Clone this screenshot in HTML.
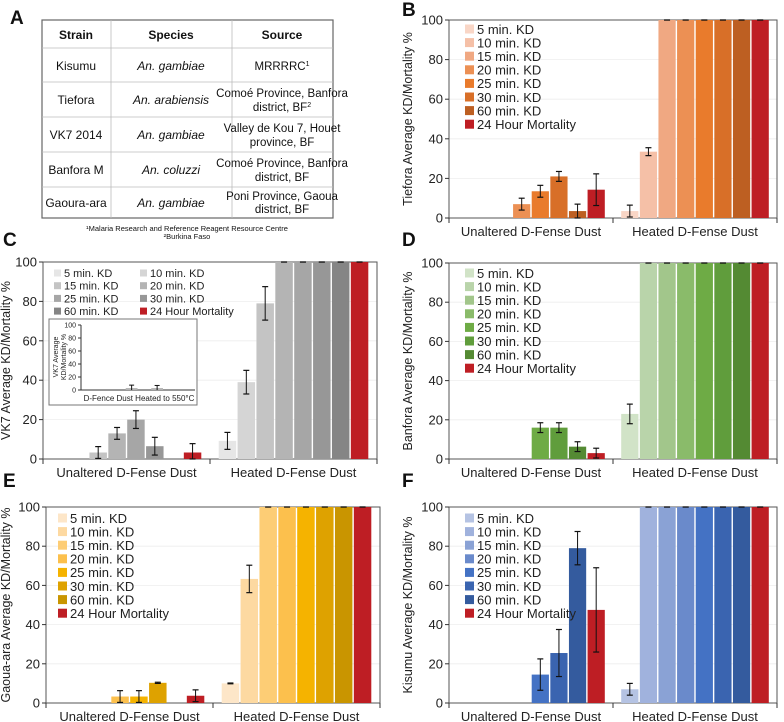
<!DOCTYPE html>
<html><head><meta charset="utf-8"><style>
body{margin:0;background:#fff;}
svg{display:block;font-family:"Liberation Sans",Arial,sans-serif;}
</style></head><body>
<svg id="fig" width="784" height="722" viewBox="0 0 784 722" xmlns="http://www.w3.org/2000/svg">
<g font-size="12" fill="#111" text-anchor="middle">
  <rect x="42" y="20" width="291" height="198" fill="none" stroke="#666" stroke-width="1.2"/>
  <g stroke="#bbb" stroke-width="0.8">
    <line x1="111" y1="20" x2="111" y2="218"/><line x1="232" y1="20" x2="232" y2="218"/>
    <line x1="42" y1="48" x2="333" y2="48"/><line x1="42" y1="82" x2="333" y2="82"/>
    <line x1="42" y1="117" x2="333" y2="117"/><line x1="42" y1="152" x2="333" y2="152"/>
    <line x1="42" y1="187" x2="333" y2="187"/>
  </g>
  <g font-weight="bold">
    <text x="76" y="39">Strain</text><text x="171" y="39">Species</text><text x="282" y="39">Source</text>
  </g>
  <text x="76" y="70">Kisumu</text><text x="171" y="70" font-style="italic">An. gambiae</text>
  <text x="76" y="104">Tiefora</text><text x="171" y="104" font-style="italic">An. arabiensis</text>
  <text x="76" y="139">VK7 2014</text><text x="171" y="139" font-style="italic">An. gambiae</text>
  <text x="76" y="174">Banfora M</text><text x="171" y="174" font-style="italic">An. coluzzi</text>
  <text x="76" y="207">Gaoura-ara</text><text x="171" y="207" font-style="italic">An. gambiae</text>
  <g font-size="11.5">
  <text x="282" y="70">MRRRRC<tspan font-size="7" dy="-4">1</tspan></text>
  <text x="282" y="97">Comoé Province, Banfora</text><text x="282" y="111">district, BF<tspan font-size="7" dy="-4">2</tspan></text>
  <text x="282" y="132">Valley de Kou 7, Houet</text><text x="282" y="146">province, BF</text>
  <text x="282" y="167">Comoé Province, Banfora</text><text x="282" y="181">district, BF</text>
  <text x="282" y="200">Poni Province, Gaoua</text><text x="282" y="213">district, BF</text>
  </g>
  <text x="187" y="231" font-size="7.5">¹Malaria Research and Reference Reagent Resource Centre</text>
  <text x="187" y="239" font-size="7.5">²Burkina Faso</text>
</g>
<g font-weight="bold" font-size="19" fill="#111">
  <text x="10" y="24">A</text><text x="402" y="16">B</text><text x="3" y="246">C</text>
  <text x="402" y="246">D</text><text x="3" y="487">E</text><text x="402" y="487">F</text>
</g>
<g id="charts"></g>
</svg>
<script>
// ---- data ----
const categories = ["Unaltered D-Fense Dust", "Heated D-Fense Dust"];
const seriesNames = ["5 min. KD","10 min. KD","15 min. KD","20 min. KD","25 min. KD","30 min. KD","60 min. KD","24 Hour Mortality"];
const yTicks = [0,20,40,60,80,100];
const tieforaUnaltered = [0,0,0,7,13.5,21,3.5,14.3];
const tieforaUnalteredErr = [0,0,0,3,3,2.5,3.5,8];
const tieforaHeated = [3.5,33.5,100,100,100,100,100,100];
const tieforaHeatedErr = [3,2,0,0,0,0,0,0];
const vk7Unaltered = [0,0,3.3,13,20,6.5,0,3.3];
const vk7UnalteredErr = [0,0,3,3,4.5,4.5,0,4.5];
const vk7Heated = [9.2,39,79,100,100,100,100,100];
const vk7HeatedErr = [4.3,6,8.5,0,0,0,0,0];
const vk7Inset = [0,0,0,3,0,3,0,0];
const vk7InsetErr = [0,0,0,4.5,0,4,0,0];
const banforaUnaltered = [0,0,0,0,16,16,6.3,3];
const banforaUnalteredErr = [0,0,0,0,2.5,2.5,2.5,2.5];
const banforaHeated = [23,100,100,100,100,100,100,100];
const banforaHeatedErr = [5,0,0,0,0,0,0,0];
const gaouaUnaltered = [0,0,0,3.3,3.3,10.3,0,3.7];
const gaouaUnalteredErr = [0,0,0,3,3,0.3,0,3];
const gaouaHeated = [10,63.3,100,100,100,100,100,100];
const gaouaHeatedErr = [0.2,7,0,0,0,0,0,0];
const kisumuUnaltered = [0,0,0,0,14.5,25.5,79,47.5];
const kisumuUnalteredErr = [0,0,0,0,8,12,8.5,21.5];
const kisumuHeated = [7,100,100,100,100,100,100,100];
const kisumuHeatedErr = [3,0,0,0,0,0,0,0];

const NS="http://www.w3.org/2000/svg";
const root=document.getElementById('charts');
function mk(tag,attrs,parent){const e=document.createElementNS(NS,tag);for(const k in attrs)e.setAttribute(k,attrs[k]);(parent||root).appendChild(e);return e;}

function panel(o){
  const g=mk('g',{});
  
  
  const L=o.x0,R=o.x1,T=o.y100,B=o.y0,W=R-L;
  const y=v=>B-(v/100)*(B-T);
  yTicks.forEach(t=>{ if(t>0&&t<100) mk('line',{x1:L,x2:R,y1:y(t),y2:y(t),stroke:'#eeeeee','stroke-width':0.8},g);});
  mk('rect',{x:L,y:T,width:W,height:B-T,fill:'none',stroke:'#555','stroke-width':1},g);
  yTicks.forEach(t=>{
    mk('line',{x1:L-4,x2:L,y1:y(t),y2:y(t),stroke:'#333'},g);
    const tx=mk('text',{x:L-6,y:y(t)+4.5,'text-anchor':'end','font-size':13,fill:'#222'},g);tx.textContent=t;
    
  });
  const half=W/2, pad=o.pad, slot=(half-2*pad)/8;
  mk('line',{x1:L+half,x2:L+half,y1:B,y2:B+5,stroke:'#333'},g);
  mk('line',{x1:L,x2:L,y1:B,y2:B+5,stroke:'#333'},g);
  mk('line',{x1:R,x2:R,y1:B,y2:B+5,stroke:'#333'},g);
  [o.u,o.h].forEach((vals,gi)=>{
    const errs=gi?o.he:o.ue;
    const lab=mk('text',{x:L+half*gi+half/2,y:B+18,'text-anchor':'middle','font-size':13,fill:'#222'},g);
    lab.textContent=categories[gi];
    
    
    vals.forEach((v,i)=>{
      const bx=L+half*gi+pad+i*slot;
      if(v>0){
        const r=mk('rect',{x:bx+0.7,y:y(v),width:slot-1.4,height:B-y(v),fill:o.colors[i]},g);
        
        
      }
      const cx=bx+slot/2, e=errs[i];
      if(v>0||e>0){
        mk('line',{x1:cx,x2:cx,y1:y(Math.min(100,v+e)),y2:y(Math.max(0,v-e)),stroke:'#111','stroke-width':1},g);
        mk('line',{x1:cx-3,x2:cx+3,y1:y(Math.min(100,v+e)),y2:y(Math.min(100,v+e)),stroke:'#111','stroke-width':1.2},g);
        mk('line',{x1:cx-3,x2:cx+3,y1:y(Math.max(0,v-e)),y2:y(Math.max(0,v-e)),stroke:'#111','stroke-width':1.2},g);
      }
    });
  });
  const yt=mk('text',{x:0,y:0,'text-anchor':'middle','font-size':12.5,fill:'#222',transform:`translate(${o.ytx},${(T+B)/2}) rotate(-90)`},g);
  yt.textContent=o.ytitle;
  
  // legend
  seriesNames.forEach((s,i)=>{
    let lx,ly;
    if(o.twoCol){lx=o.lx+(i%2)*86; ly=o.ly+Math.floor(i/2)*12.7;}
    else {lx=o.lx; ly=o.ly+i*13.6;}
    const sz=o.twoCol?7:9;
    mk('rect',{x:lx,y:ly-sz/2,width:sz,height:sz,fill:o.colors[i]},g);
    const t=mk('text',{x:lx+sz+3,y:ly+(o.twoCol?4:4.8),'font-size':o.twoCol?11:13,fill:'#222'},g);
    t.textContent=s;
    
    
  });
  return g;
}

const red="#be1e24";
panel({name:'panel-b-tiefora',x0:449,x1:777,y100:20,y0:218,pad:7.5,u:tieforaUnaltered,ue:tieforaUnalteredErr,h:tieforaHeated,he:tieforaHeatedErr,
  colors:["#f9d6c6","#f5c0a7","#f0a882","#ec9054","#e97b2c","#d86f28","#bd5f22",red],ytitle:"Tiefora Average KD/Mortality %",ytx:412,lx:465,ly:29});
panel({name:'panel-c-vk7',x0:43,x1:377,y100:262,y0:459,pad:8,u:vk7Unaltered,ue:vk7UnalteredErr,h:vk7Heated,he:vk7HeatedErr,
  colors:["#e6e6e6","#d5d5d5","#c4c4c4","#b4b4b4","#a6a6a6","#979797","#858585",red],ytitle:"VK7 Average KD/Mortality %",ytx:10,lx:54,ly:273,twoCol:true});
panel({name:'panel-d-banfora',x0:449,x1:777,y100:263,y0:459,pad:7.5,u:banforaUnaltered,ue:banforaUnalteredErr,h:banforaHeated,he:banforaHeatedErr,
  colors:["#d1e3c7","#b9d4aa","#a2c68b","#8abb6a","#6eab45","#609d3c","#548a33",red],ytitle:"Banfora Average KD/Mortality %",ytx:412,lx:465,ly:273});
panel({name:'panel-e-gaoua-ara',x0:46,x1:380,y100:507,y0:703,pad:8,u:gaouaUnaltered,ue:gaouaUnalteredErr,h:gaouaHeated,he:gaouaHeatedErr,
  colors:["#fde6c8","#fdd9a1","#fdcd75","#fcc04d","#f5b300","#dea200","#c99500",red],ytitle:"Gaoua-ara  Average KD/Mortality %",ytx:10,lx:58,ly:518});
panel({name:'panel-f-kisumu',x0:449,x1:777,y100:507,y0:703,pad:7.5,u:kisumuUnaltered,ue:kisumuUnalteredErr,h:kisumuHeated,he:kisumuHeatedErr,
  colors:["#b5c3e3","#a0b2dd","#8aa2d5","#6a8acb","#4472c4","#3a64b0","#345b9e",red],ytitle:"Kisumu Average KD/Mortality %",ytx:412,lx:465,ly:518});

// inset in C
(function(){
  const g=mk('g',{});
  
  
  mk('rect',{x:49,y:319,width:148,height:86,fill:'#fff',stroke:'#777','stroke-width':1},g);
  const L=81,R=195,T=325,B=390;const y=v=>B-(v/100)*(B-T);
  mk('line',{x1:L,x2:L,y1:T,y2:B,stroke:'#333'},g);
  mk('line',{x1:L,x2:R,y1:B,y2:B,stroke:'#333'},g);
  yTicks.forEach(t=>{mk('line',{x1:L-3,x2:L,y1:y(t),y2:y(t),stroke:'#333'},g);
    const tx=mk('text',{x:L-5,y:y(t)+2.5,'text-anchor':'end','font-size':7,fill:'#222'},g);tx.textContent=t;});
  const slot=(R-L-12)/8;
  vk7Inset.forEach((v,i)=>{const bx=L+6+i*slot,cx=bx+slot/2,e=vk7InsetErr[i];
    if(v>0){const r=mk('rect',{x:bx+0.5,y:y(v),width:slot-1,height:B-y(v),fill:'#b4b4b4'},g);
      }
    if(e>0){mk('line',{x1:cx,x2:cx,y1:y(v+e),y2:B,stroke:'#111'},g);
      mk('line',{x1:cx-2.5,x2:cx+2.5,y1:y(v+e),y2:y(v+e),stroke:'#111'},g);}
  });
  const xl=mk('text',{x:139,y:401,'text-anchor':'middle','font-size':8,fill:'#222'},g);xl.textContent="D-Fence Dust Heated to 550°C";
  const t1=mk('text',{'text-anchor':'middle','font-size':7,fill:'#222',transform:'translate(58,357) rotate(-90)'},g);t1.textContent="VK7 Average";
  const t2=mk('text',{'text-anchor':'middle','font-size':7,fill:'#222',transform:'translate(66,357) rotate(-90)'},g);t2.textContent="KD/Mortality %";
})();
</script>
</body></html>
